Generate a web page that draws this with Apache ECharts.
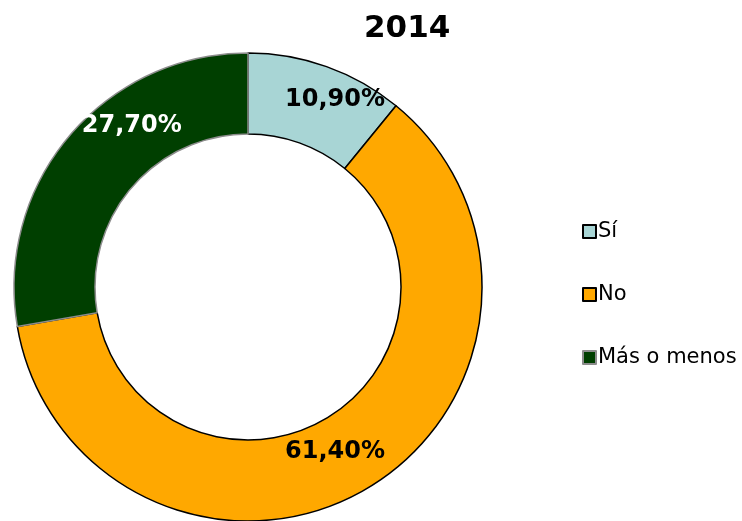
<!DOCTYPE html>
<html>
<head>
<meta charset="utf-8">
<script src="https://cdn.jsdelivr.net/npm/echarts@6/dist/echarts.min.js"></script>
<style>
  html, body { margin: 0; padding: 0; background: #fff; }
  #chart { width: 742px; height: 521px; }
</style>
</head>
<body>
<div id="chart"></div>
<script>
// datos del gráfico
const titleText = '2014'
const categories = ['Sí', 'No', 'Más o menos']
const values = [10.9, 61.4, 27.7]

const colors = ['#A8D5D5', '#FFA800', '#003F00']
const borders = ['#000000', '#000000', '#8C8C8C']
const labelColors = ['#000000', '#000000', '#FFFFFF']
// desplazamiento de las etiquetas (como en Excel)
const labelOffsets = [[21, -2], [-12, -5], [34, -35]]

let myChart = echarts.init(document.getElementById('chart'))

let pieData = categories.map((name, i) => ({
  name: name,
  value: values[i],
  itemStyle: { color: colors[i], borderColor: borders[i] },
  label: { color: labelColors[i], offset: labelOffsets[i] }
}))

let option = {
  animation: false,
  title: {
    text: titleText,
    left: 359,
    top: 8,
    textStyle: {
      fontFamily: 'DejaVu Sans',
      fontWeight: 'bold',
      fontSize: 31,
      color: '#000'
    }
  },
  legend: {
    orient: 'vertical',
    left: 577,
    top: 216,
    itemWidth: 13,
    itemHeight: 13,
    itemGap: 42,
    icon: 'rect',
    textStyle: {
      fontFamily: 'DejaVu Sans',
      fontSize: 21,
      color: '#000',
      padding: [0, 0, 0, -3]
    },
    data: categories
  },
  series: [
    {
      type: 'pie',
      center: [248, 287],
      radius: [153, 234],
      startAngle: 90,
      clockwise: true,
      avoidLabelOverlap: false,
      itemStyle: { borderWidth: 1.5 },
      emphasis: { disabled: true },
      label: {
        show: true,
        position: 'inside',
        fontFamily: 'DejaVu Sans',
        fontWeight: 'bold',
        fontSize: 24,
        formatter: (p) => p.value.toFixed(2).replace('.', ',') + '%'
      },
      labelLine: { show: false },
      data: pieData
    }
  ]
}
myChart.setOption(option)
</script>
</body>
</html>
